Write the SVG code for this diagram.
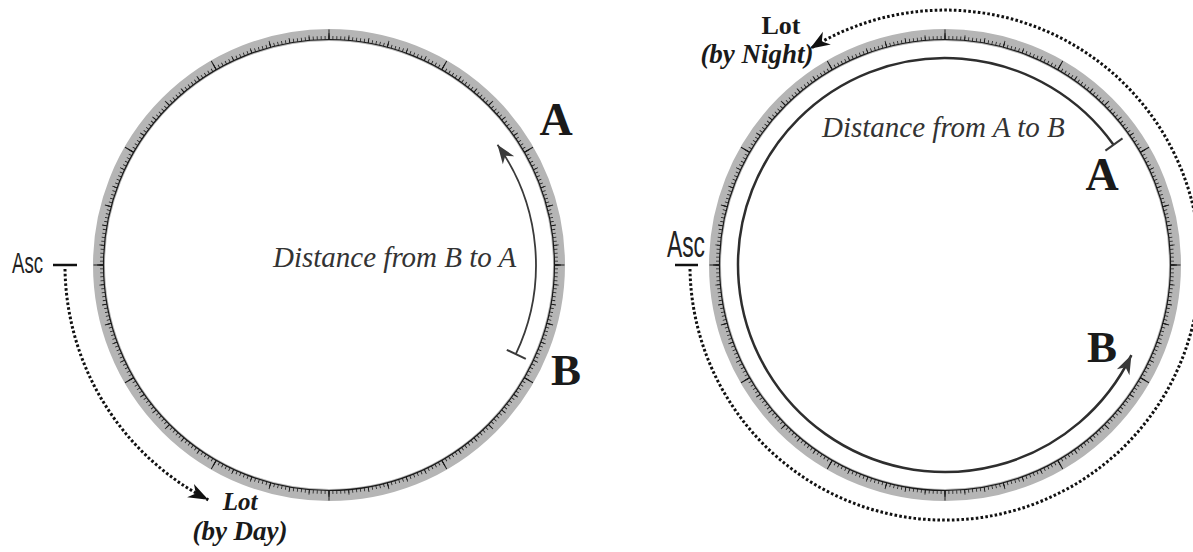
<svg xmlns="http://www.w3.org/2000/svg" width="1193" height="552" viewBox="0 0 1193 552">
<style>
.band{fill:none;stroke:#b5b5b5;stroke-width:12}
.rim{fill:none;stroke:#1a1a1a;stroke-width:1.2}
.tk{fill:none;stroke:#1a1a1a}
.dots{fill:none;stroke:#111;stroke-width:3;stroke-dasharray:2.6 2.2}
.ascbar{stroke:#111;stroke-width:2.5}
.lbl{font-family:"Liberation Serif","Times New Roman",serif;font-weight:bold;fill:#1a1a1a}
.lot{font-family:"Liberation Serif","Times New Roman",serif;font-weight:bold;font-style:italic;fill:#1a1a1a;font-size:27px}
.dist{font-family:"Liberation Serif","Times New Roman",serif;font-style:italic;fill:#333;font-size:29px}
.asc{font-family:"Liberation Sans","Arial",sans-serif;fill:#222}
.bar{stroke:#3a3a3a;stroke-width:2}
.up{font-style:normal;font-size:26px}
.sm{font-size:25px}
</style>
<defs>
<g id="dial">
<circle class="band" r="230"/>
<circle class="rim" r="225.5"/>
<circle class="tk" r="227.25" pathLength="360" stroke-width="3.5" stroke-dasharray="0.2 0.8" stroke-dashoffset="0.1"/>
<circle class="tk" r="228" pathLength="360" stroke-width="5" stroke-dasharray="0.2 4.8" stroke-dashoffset="0.1"/>
<circle class="tk" r="228.75" pathLength="360" stroke-width="6.5" stroke-dasharray="0.2 14.8" stroke-dashoffset="0.1"/>
<circle class="tk" r="230.5" pathLength="360" stroke-width="10" stroke-dasharray="0.25 29.75" stroke-dashoffset="0.125"/>
</g>
<marker id="arrDot" viewBox="-22 -9 24 18" markerWidth="24" markerHeight="18" refX="0" refY="0" orient="auto" markerUnits="userSpaceOnUse">
<path d="M0,0 L-20,-7.5 L-14,0 L-20,7.5 Z" fill="#111"/>
</marker>
<marker id="arrSolid" viewBox="-22 -9 24 18" markerWidth="24" markerHeight="18" refX="0" refY="0" orient="auto" markerUnits="userSpaceOnUse">
<path d="M0,0 L-19,-7 L-13.5,0 L-19,7 Z" fill="#3a3a3a"/>
</marker>
</defs>

<g id="left-dial"><use href="#dial" x="329" y="265"/></g>
<g id="right-dial"><use href="#dial" x="945" y="265"/></g>

<g id="left-asc">
<text class="asc" x="12" y="273" font-size="30" textLength="31" lengthAdjust="spacingAndGlyphs">Asc</text>
<line class="ascbar" x1="53" y1="265" x2="77" y2="265"/>
</g>
<g id="right-asc">
<text class="asc" x="667" y="257" font-size="37" textLength="38" lengthAdjust="spacingAndGlyphs">Asc</text>
<line class="ascbar" x1="675" y1="265" x2="698" y2="265"/>
</g>

<g id="left-labels">
<text class="lbl" x="556" y="135" font-size="46" text-anchor="middle">A</text>
<text class="lbl" x="566" y="385" font-size="45" text-anchor="middle">B</text>
<text class="dist" x="273" y="267">Distance from B to A</text>
<text class="lot" text-anchor="middle"><tspan class="sm" x="240" y="509.5">Lot</tspan><tspan x="240" y="539.5">(by Day)</tspan></text>
</g>
<g id="right-labels">
<text class="lot" text-anchor="middle"><tspan class="up" x="781" y="34">Lot</tspan><tspan x="757" y="63">(by Night)</tspan></text>
<text class="lbl" x="1102" y="190" font-size="46" text-anchor="middle">A</text>
<text class="lbl" x="1102" y="362" font-size="45" text-anchor="middle">B</text>
<text class="dist" x="822" y="137">Distance from A to B</text>
</g>

<g id="connectors">
<path class="dots" d="M 65 269 A 264 264 0 0 0 208.3 499.8" marker-end="url(#arrDot)"/>
<path class="dots" d="M 690 269 A 255 255 0 1 0 809.9 48.8" marker-end="url(#arrDot)"/>
<path d="M 515.8 354.1 A 207 207 0 0 0 497.5 144.8" fill="none" stroke="#3a3a3a" stroke-width="1.8" marker-end="url(#arrSolid)"/>
<line class="bar" x1="506.8" y1="349.8" x2="525.8" y2="358.9"/>
<path d="M 1113.5 144.8 A 207 207 0 1 0 1131.4 355.1" fill="none" stroke="#2e2e2e" stroke-width="2.5" marker-end="url(#arrSolid)"/>
<line class="bar" x1="1105.4" y1="150.6" x2="1122.5" y2="138.4"/>
</g>
</svg>
